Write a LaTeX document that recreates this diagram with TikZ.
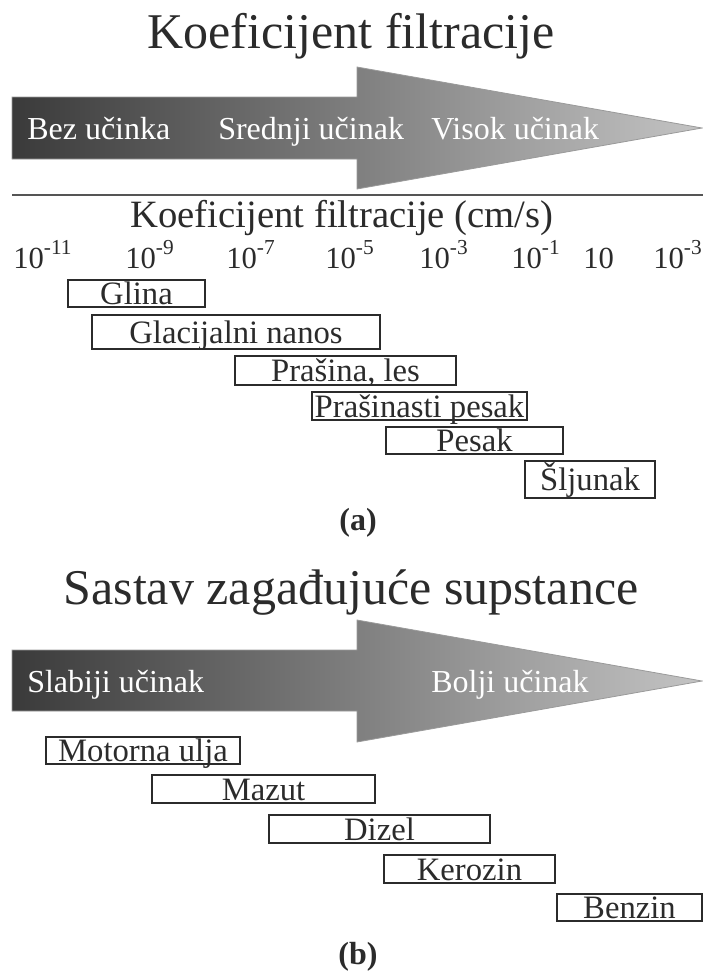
\documentclass[tikz,border=0pt]{standalone}
\usepackage{fontspec}
\setmainfont{Liberation Serif}
\usepackage{tikz}
\usetikzlibrary{positioning}
\definecolor{ink}{HTML}{2B2B2B}
\definecolor{rulegray}{HTML}{555555}
\definecolor{shadedark}{HTML}{3A3A3A}
\definecolor{shadelight}{HTML}{C4C4C4}
\definecolor{edgegray}{HTML}{9A9A9A}
\newcommand{\pwr}[1]{10\raisebox{0.45em}{\fontsize{16}{16}\selectfont#1}}
\tikzset{
  bigtitle/.style={text=ink, font=\fontsize{37.5}{42}\selectfont, inner sep=0pt, anchor=base},
  axistitle/.style={text=ink, font=\fontsize{29}{33}\selectfont, inner sep=0pt, anchor=base},
  tick/.style={text=ink, font=\fontsize{23}{26}\selectfont, inner sep=0pt, anchor=base west},
  onarrow/.style={text=white, font=\fontsize{24}{28}\selectfont, inner sep=0pt, anchor=base west},
  spanbox/.style={draw=ink, line width=1pt, text=ink, font=\fontsize{24.5}{28}\selectfont,
    inner xsep=0pt, inner ysep=0pt, text height=16.5pt, text depth=0pt},
  tag/.style={text=ink, font=\bfseries\fontsize{24}{28}\selectfont, inner sep=0pt, anchor=base},
  bigarrow/.style={left color=shadedark, right color=shadelight, draw=edgegray, line width=0.6pt},
}
\begin{document}
\begin{tikzpicture}[x=0.75pt, y=-0.75pt]
\useasboundingbox (0,0) rectangle (703,976);
% (a) filtration coefficient
\node[bigtitle] (titlea) at (351,48) {Koeficijent filtracije};
\shade[bigarrow] (12,97) -- (357,97) -- (357,67) -- (702,128) -- (357,189) -- (357,159) -- (12,159) -- cycle;
\node[onarrow] (bez) at (27,139) {Bez učinka};
\node[onarrow] (srednji) at (218,139) {Srednji učinak};
\node[onarrow] (visok) at (431,139) {Visok učinak};
\draw[rulegray, line width=1.5pt] (12,195) -- (703,195);
\node[axistitle] (axis) at (342,227) {Koeficijent filtracije (cm/s)};
\node[tick] (t1) at (13,268) {\pwr{-11}};
\node[tick] (t2) at (125,268) {\pwr{-9}};
\node[tick] (t3) at (226,268) {\pwr{-7}};
\node[tick] (t4) at (325,268) {\pwr{-5}};
\node[tick] (t5) at (419,268) {\pwr{-3}};
\node[tick] (t6) at (511,268) {\pwr{-1}};
\node[tick] (t7) at (583,268) {10};
\node[tick] (t8) at (653,268) {\pwr{-3}};
\node[spanbox, minimum width=102.75pt, minimum height=20.25pt] (glina) at (136.5,293.5) {Glina};
\node[spanbox, minimum width=216pt, minimum height=25.5pt] (glacijal) at (236,332) {Glacijalni nanos};
\node[spanbox, minimum width=165.75pt, minimum height=21.75pt] (prasina) at (345.5,370.5) {Prašina, les};
\node[spanbox, minimum width=161.25pt, minimum height=21pt] (prasinasti) at (419.5,406) {Prašinasti pesak};
\node[spanbox, minimum width=132.75pt, minimum height=20.25pt] (pesak) at (474.5,440.5) {Pesak};
\node[spanbox, minimum width=97.5pt, minimum height=27.75pt] (sljunak) at (590,479.5) {Šljunak};
\node[tag] (taga) at (358,530) {(a)};
% (b) pollutant composition
\node[bigtitle] (titleb) at (351,604) {Sastav zagađujuće supstance};
\shade[bigarrow] (12,650) -- (357,650) -- (357,620) -- (702,681) -- (357,742) -- (357,711) -- (12,711) -- cycle;
\node[onarrow] (slabiji) at (27,692) {Slabiji učinak};
\node[onarrow] (bolji) at (431,692) {Bolji učinak};
\node[spanbox, minimum width=145.5pt, minimum height=20.25pt] (motorna) at (143,750.5) {Motorna ulja};
\node[spanbox, minimum width=167.25pt, minimum height=21pt] (mazut) at (263.5,789) {Mazut};
\node[spanbox, minimum width=165.75pt, minimum height=21pt] (dizel) at (379.5,829) {Dizel};
\node[spanbox, minimum width=128.25pt, minimum height=21pt] (kerozin) at (469.5,869) {Kerozin};
\node[spanbox, minimum width=108.75pt, minimum height=20.25pt] (benzin) at (629.5,907.5) {Benzin};
\node[tag] (tagb) at (358,964) {(b)};
\end{tikzpicture}
\end{document}
